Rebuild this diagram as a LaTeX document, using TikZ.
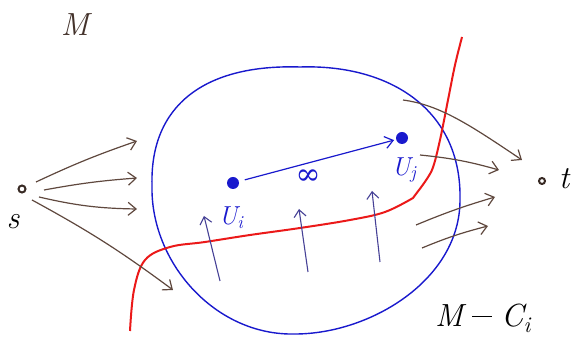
\documentclass[tikz,border=0pt]{standalone}
\usepackage{fontspec}
\setmainfont{Latin Modern Roman}
\newfontfamily\symfont{DejaVu Serif}
\usetikzlibrary{arrows.meta}
\definecolor{penbrown}{RGB}{95,72,62}
\definecolor{penblue}{RGB}{25,25,205}
\definecolor{penred}{RGB}{235,25,25}
\definecolor{pengrey}{RGB}{70,65,150}
\tikzset{
  brownarrow/.style={draw=penbrown, line width=1.2pt, -{Straight Barb[length=8pt,width=13pt,line width=1.2pt]}},
  bluearrow/.style={draw=penblue, line width=1.2pt, -{Straight Barb[length=8pt,width=12pt,line width=1.2pt]}},
  uparrow/.style={draw=pengrey, line width=1.1pt, -{Straight Barb[length=7pt,width=12pt,line width=1.1pt]}},
  bigdot/.style={circle, fill=penblue, inner sep=0pt, minimum size=12pt},
  smalldot/.style={circle, draw=penbrown!60!black, line width=2pt, fill=white, inner sep=0pt, minimum size=7pt},
  biglab/.style={font=\fontsize{32}{32}\selectfont\itshape},
  midlab/.style={font=\fontsize{26}{26}\selectfont\itshape},
}
\begin{document}
\begin{tikzpicture}[x=1pt,y=-1pt]
\useasboundingbox (0,0) rectangle (574,355);
% region M
\node[biglab, text=penbrown!70!black] (Mlab) at (75,25) {M};
\node[biglab, text=black] (MClab) at (483,318) {M\kern 9pt\raisebox{9pt}{\rule{20pt}{1.4pt}}\kern 9pt C\textsubscript{i}};
% blob
\coordinate (bl) at (152,185);
\coordinate (bt) at (300,67);
\coordinate (br) at (460,200);
\coordinate (bb) at (295,334);
\draw[penblue, line width=1.4pt] (bl) .. controls (150,105) and (205,64) .. (bt)
  .. controls (390,64) and (462,110) .. (br)
  .. controls (460,280) and (370,334) .. (bb)
  .. controls (215,336) and (150,262) .. (bl) -- cycle;
% red cut
\draw[penred, line width=2pt] plot[smooth, tension=0.6] coordinates {
 (130,331) (134,290) (145,260) (170,247) (205,242) (250,235)
 (300,228) (350,220) (385,212) (413,198)}
 -- (419,190) plot[smooth, tension=0.5] coordinates {(419,190) (432,170) (440,140) (448,100) (455,65) (462,37)};
% s and t
\node[smalldot] (s) at (22,189) {};
\node[biglab] (slab) at (13,222) {s};
\node[smalldot, minimum size=6pt] (t) at (542,181) {};
\node[biglab] (tlab) at (564,179) {t};
% U nodes
\node[bigdot] (Ui) at (233,183) {};
\node[bigdot] (Uj) at (402,138) {};
\node[midlab, text=penblue] (Uilab) at (231,218) {U\textsubscript{i}};
\node[midlab, text=penblue] (Ujlab) at (404,170) {U\textsubscript{j}};
\node[text=penblue, font=\fontsize{30}{30}\selectfont\symfont] (inf) at (308,177) {∞};
\draw[bluearrow, shorten <=6pt, shorten >=2pt] (Ui) -- (Uj);
% upward arrows
\coordinate (a1s) at (220,281); \coordinate (a1e) at (204,216);
\coordinate (a2s) at (308,272); \coordinate (a2e) at (299,209);
\coordinate (a3s) at (380,262); \coordinate (a3e) at (372,191);
\draw[uparrow] (a1s) -- (a1e);
\draw[uparrow] (a2s) -- (a2e);
\draw[uparrow] (a3s) -- (a3e);
% arrows from s
\coordinate (s1) at (137,141);
\coordinate (s2) at (137,178);
\coordinate (s3) at (137,209);
\coordinate (s4) at (173,290);
\draw[brownarrow] ([shift={(14,-7)}]s.center) to[bend left=3] (s1);
\draw[brownarrow] ([shift={(22,1)}]s.center) to[bend left=3] (s2);
\draw[brownarrow] ([shift={(17,8)}]s.center) to[bend right=6] (s3);
\draw[brownarrow] ([shift={(10,11)}]s.center) to[bend left=4] (s4);
% arrows towards t
\coordinate (r1) at (403,100); \coordinate (r1e) at (522,160);
\coordinate (r2) at (420,155); \coordinate (r2e) at (499,170);
\coordinate (r3) at (416,225); \coordinate (r3e) at (495,197);
\coordinate (r4) at (422,248); \coordinate (r4e) at (488,226);
\draw[brownarrow] (r1) .. controls (440,105) and (470,125) .. (r1e);
\draw[brownarrow] (r2) to[bend left=5] (r2e);
\draw[brownarrow] (r3) to[bend left=3] (r3e);
\draw[brownarrow] (r4) to[bend left=4] (r4e);
\end{tikzpicture}
\end{document}
